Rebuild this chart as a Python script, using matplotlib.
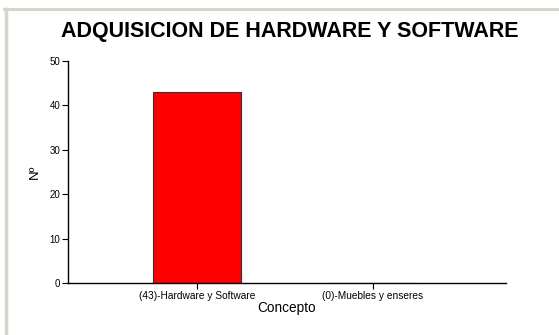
import matplotlib
matplotlib.use('Agg')
import matplotlib.pyplot as plt
from matplotlib.lines import Line2D

# data
categories = ['(43)-Hardware y Software', '(0)-Muebles y enseres']
counts = [43, 0]
y_ticks = [0, 10, 20, 30, 40, 50]

plt.rcParams['font.family'] = ['Liberation Sans', 'DejaVu Sans']

fig = plt.figure(figsize=(5.59, 3.35), dpi=100)
fig.patch.set_facecolor('white')

# gray frame lines like the original window
fig.add_artist(Line2D([4 / 559, 1], [1 - 9 / 335, 1 - 9 / 335], color='#d8d4cc', lw=2.2))
fig.add_artist(Line2D([6 / 559, 6 / 559], [0, 1 - 9 / 335], color='#d8d4cc', lw=2.5))

ax = fig.add_axes([68 / 559, 1 - 283 / 335, 438 / 559, 222 / 335])
x = list(range(len(categories)))
ax.bar(x, counts, width=0.5, color='#ff0000', edgecolor='#333333', linewidth=0.8)

ax.set_xlim(-0.733, 1.756)
ax.set_ylim(0, 50)
ax.set_yticks(y_ticks)
ax.set_xticks(x)
ax.set_xticklabels(categories, fontsize=7.3)
ax.tick_params(axis='y', labelsize=7, length=4, width=0.8, pad=1.5)
ax.tick_params(axis='x', length=4, width=0.8, pad=2)
for s in ['top', 'right']:
    ax.spines[s].set_visible(False)
for s in ['left', 'bottom']:
    ax.spines[s].set_linewidth(1.0)

ax.set_xlabel('Concepto', fontsize=9.8, labelpad=0)
ax.set_ylabel('Nº', fontsize=9.5, labelpad=6)

fig.text(290 / 559, 1 - 31 / 335, 'ADQUISICION DE HARDWARE Y SOFTWARE',
         ha='center', va='center', fontsize=15.5, fontweight='bold')

fig.savefig('out.png', dpi=100)
